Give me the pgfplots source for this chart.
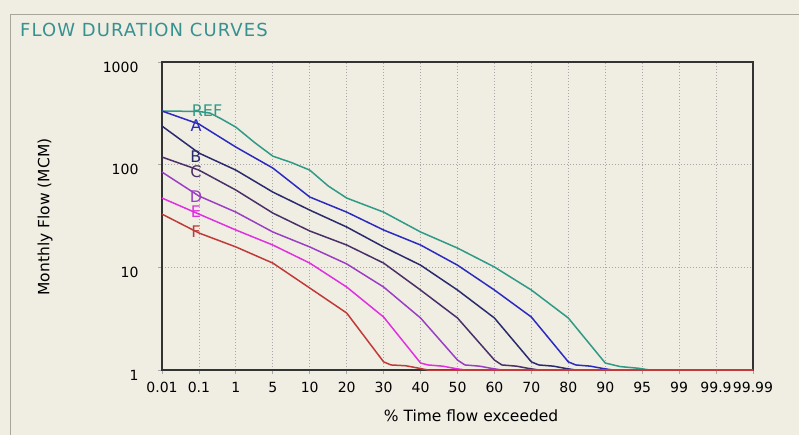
\documentclass[border=0pt]{standalone}
\usepackage{pgfplots}
\pgfplotsset{compat=1.18}
\usepackage{fontspec}
\setmainfont{DejaVu Sans}

\definecolor{bg}{HTML}{F0EDE3}
\definecolor{framec}{HTML}{A9A598}
\definecolor{titlec}{HTML}{379191}
\definecolor{gridc}{HTML}{A8A8A8}
\definecolor{refc}{HTML}{2F9A86}
\definecolor{ac}{HTML}{2B2BC0}
\definecolor{bc}{HTML}{2A2A6E}
\definecolor{cc}{HTML}{4B3068}
\definecolor{dc}{HTML}{9A3FC4}
\definecolor{ec}{HTML}{E030E0}
\definecolor{fc}{HTML}{C03A3A}

\begin{document}
\begin{tikzpicture}
  \fill[bg] (0pt,0pt) rectangle (799pt,-435pt);
  \path[use as bounding box] (0pt,0pt) rectangle (799pt,-435pt);
  \draw[framec, line width=1pt] (10pt,-435pt) -- (10pt,-14.5pt) -- (799pt,-14.5pt);
  \node[anchor=base west, text=titlec, inner sep=0pt,
        font=\fontsize{18}{21}\selectfont\addfontfeature{LetterSpace=6}]
        at (20pt,-37pt) {FLOW DURATION CURVES};

  \begin{axis}[
    at={(162pt,-370pt)}, anchor=south west,
    width=591pt, height=308pt, scale only axis,
    xmin=0, xmax=16,
    ymode=log, ymin=1, ymax=1000,
    xtick={0,...,16},
    xticklabels={0.01,0.1,1,5,10,20,30,40,50,60,70,80,90,95,99,99.9,99.99},
    ytick={1,10,100,1000},
    yticklabels={1,10,100,1000},
    yminorticks=false,
    tick pos=left, tick align=outside,
    major tick length=4pt,
    tick style={gridc, line width=0.8pt},
    xmajorgrids, ymajorgrids,
    grid style={gridc, line width=0.8pt, dash pattern=on 1pt off 2pt},
    axis line style={black!80, line width=1.6pt},
    ticklabel style={font=\fontsize{14}{16}\selectfont},
    xticklabel style={yshift=-5pt},
    yticklabel style={xshift=-16pt, yshift=-5pt},
    xlabel={\% Time flow exceeded},
    ylabel={Monthly Flow (MCM)},
    label style={font=\fontsize{15.5}{18}\selectfont},
    xlabel style={at={(axis description cs:0.523,-0.149)}, anchor=center},
    ylabel style={at={(axis description cs:-0.198,0.497)}, anchor=center},
    clip=false,
    every axis plot/.append style={line width=1.5pt, line join=round},
  ]

    % REF
    \addplot[refc] coordinates {
      (0,333) (1,330) (1.3,318) (1.6,280) (2,232) (2.5,165) (3,121) (3.5,105)
      (4,88.5) (4.5,62) (5,47.3) (6,34.5) (7,22.1) (8,15.4) (9,10.07) (10,6.01)
      (11,3.21) (12,1.17) (12.4,1.08) (12.9,1.04) (13.2,1) (16,1)
    };
    % A
    \addplot[ac] coordinates {
      (0,333) (1,248.5) (2,148.3) (3,92.7) (4,48.4) (5,34.5) (6,23.1) (7,16.5)
      (8,10.5) (9,6.01) (10,3.28) (11,1.2) (11.2,1.12) (11.6,1.09) (11.9,1.04)
      (12.2,1) (16,1)
    };
    % B
    \addplot[bc] coordinates {
      (0,237.6) (1,129.7) (2,88.5) (3,54.1) (4,36.1) (5,24.7) (6,15.8) (7,10.5)
      (8,6.01) (9,3.21) (10,1.2) (10.2,1.12) (10.6,1.09) (10.9,1.04) (11.2,1) (16,1)
    };
    % C
    \addplot[cc] coordinates {
      (0,118.6) (1,88.5) (2,56.6) (3,33.8) (4,22.6) (5,16.5) (6,11.0) (7,6.01)
      (8,3.21) (9,1.25) (9.2,1.12) (9.6,1.09) (9.9,1.04) (10.2,1) (16,1)
    };
    % D
    \addplot[dc] coordinates {
      (0,84.7) (1,49.5) (2,34.5) (3,22.1) (4,15.8) (5,10.8) (6,6.43) (7,3.21)
      (8,1.25) (8.2,1.12) (8.6,1.09) (8.9,1.04) (9.2,1) (16,1)
    };
    % E
    \addplot[ec] coordinates {
      (0,47.3) (1,33.0) (2,23.1) (3,16.5) (4,11.0) (5,6.43) (6,3.28) (7,1.17)
      (7.2,1.12) (7.6,1.09) (7.9,1.04) (8.2,1) (16,1)
    };
    % F
    \addplot[fc] coordinates {
      (0,33.0) (1,21.6) (2,15.8) (3,11.0) (4,6.29) (5,3.59) (6,1.2)
      (6.2,1.12) (6.6,1.1) (6.9,1.05) (7.2,1) (16,1)
    };

    \node[text=refc, font=\fontsize{16}{18}\selectfont, inner sep=0pt] at (axis cs:1.22,333) {REF};
    \node[text=ac, font=\fontsize{16}{18}\selectfont, inner sep=0pt] at (axis cs:0.92,240) {A};
    \node[text=bc, font=\fontsize{16}{18}\selectfont, inner sep=0pt] at (axis cs:0.92,118.6) {B};
    \node[text=cc, font=\fontsize{16}{18}\selectfont, inner sep=0pt] at (axis cs:0.92,84.7) {C};
    \node[text=dc, font=\fontsize{16}{18}\selectfont, inner sep=0pt] at (axis cs:0.92,48.4) {D};
    \node[text=ec, font=\fontsize{16}{18}\selectfont, inner sep=0pt] at (axis cs:0.92,34.5) {E};
    \node[text=fc, font=\fontsize{16}{18}\selectfont, inner sep=0pt] at (axis cs:0.92,22.1) {F};
  \end{axis}
\end{tikzpicture}
\end{document}
